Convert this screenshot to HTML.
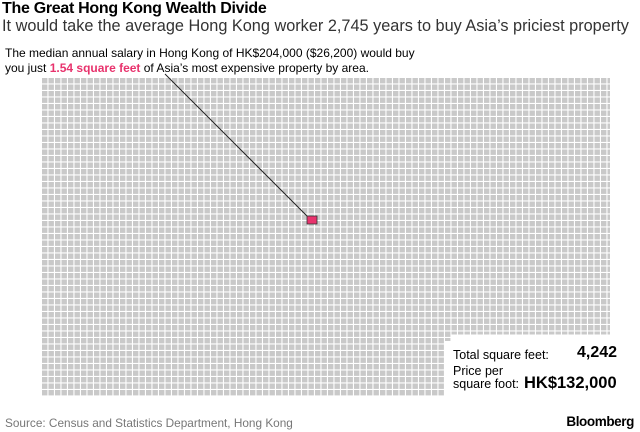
<!DOCTYPE html>
<html><head><meta charset="utf-8"><style>
body{margin:0;width:640px;height:432px;background:#fff;font-family:"Liberation Sans",sans-serif;position:relative;overflow:hidden}
.t{position:absolute;white-space:nowrap}
</style></head><body>
<svg width="640" height="432" style="position:absolute;left:0;top:0">
<defs><pattern id="p" x="42" y="78" width="6.5" height="6.5" patternUnits="userSpaceOnUse"><rect width="5.4" height="5.4" fill="#c9c9c9"/></pattern></defs>
<rect x="42" y="78" width="568" height="256.5" fill="url(#p)"/>
<rect x="42" y="334.5" width="403" height="62" fill="url(#p)"/>
<rect x="445" y="334.5" width="6.5" height="6.5" fill="url(#p)"/>
<line x1="165" y1="74" x2="309" y2="218" stroke="#222" stroke-width="1"/>
<rect x="307" y="216" width="10" height="8" fill="#e8336d" stroke="#333" stroke-width="0.8"/>
</svg>
<div class="t" style="left:2px;top:0px;font-size:16px;font-weight:bold;color:#000;letter-spacing:-0.3px">The Great Hong Kong Wealth Divide</div>
<div class="t" style="left:2px;top:17px;font-size:16.3px;color:#333">It would take the average Hong Kong worker 2,745 years to buy Asia’s priciest property</div>
<div class="t" style="left:5px;top:46px;font-size:12px;color:#000;line-height:15px">The median annual salary in Hong Kong of HK$204,000 ($26,200) would buy<br>you just <b style="color:#e8336d">1.54 square feet</b> of Asia’s most expensive property by area.</div>
<div class="t" style="left:453px;top:348px;font-size:12.5px;color:#000">Total square feet:</div>
<div class="t" style="left:577px;top:344px;font-size:16px;font-weight:bold;color:#000">4,242</div>
<div class="t" style="left:453px;top:365px;font-size:12.5px;color:#000;line-height:13px">Price per<br>square foot:</div>
<div class="t" style="left:524px;top:374px;font-size:16.5px;font-weight:bold;color:#000">HK$132,000</div>
<div class="t" style="left:5px;top:416px;font-size:11.8px;color:#777">Source: Census and Statistics Department, Hong Kong</div>
<div class="t" style="right:6px;top:414px;font-size:13.5px;font-weight:bold;color:#000;letter-spacing:-0.4px">Bloomberg</div>
</body></html>
